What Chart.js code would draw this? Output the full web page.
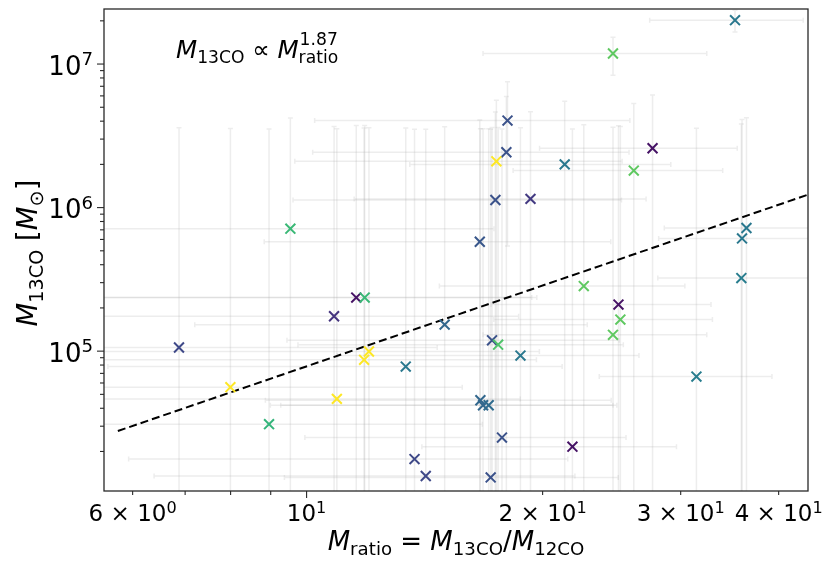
<!DOCTYPE html>
<html>
<head>
<meta charset="utf-8">
<script src="https://cdn.jsdelivr.net/npm/chart.js@4.4.0/dist/chart.umd.min.js"></script>
<style>
  html, body { margin: 0; padding: 0; background: #ffffff; }
  #wrap { width: 825px; height: 564px; }
</style>
</head>
<body>
<div id="wrap"><canvas id="chart" width="825" height="564"></canvas></div>
<script>
// Mass ratio M13CO / M12CO for each cloud
const massRatio = [
  35.19, 24.59, 18.04, 27.62, 17.98, 17.46, 21.34, 26.14, 17.41, 19.30,
  9.535, 36.39, 35.92, 16.63, 35.85, 22.57, 11.57, 11.86, 24.99, 10.84,
  25.13, 15.00, 24.59, 17.24, 17.55, 6.875, 12.01, 18.74, 11.84, 13.38,
  31.42, 7.995, 10.93, 16.66, 16.79, 17.07, 8.956, 17.75, 21.83, 13.73,
  14.19, 17.17
];
// 13CO mass of each cloud, in solar masses
const mass13CO = [
  2.02e7, 1.184e7, 4.04e6, 2.59e6, 2.43e6, 2.10e6, 2.00e6, 1.81e6, 1.13e6, 1.15e6,
  7.13e5, 7.21e5, 6.10e5, 5.78e5, 3.23e5, 2.84e5, 2.36e5, 2.36e5, 2.11e5, 1.75e5,
  1.66e5, 1.53e5, 1.30e5, 1.19e5, 1.11e5, 1.06e5, 9.94e4, 9.32e4, 8.70e4, 7.81e4,
  6.65e4, 5.61e4, 4.65e4, 4.55e4, 4.20e4, 4.20e4, 3.10e4, 2.50e4, 2.16e4, 1.77e4,
  1.35e4, 1.32e4
];
// 1-sigma uncertainties (linear, symmetric)
const massRatioErr = [
  7.8, 7.8, 7.8, 7.8, 7.8, 7.8, 7.8, 7.8, 7.8, 7.8,
  7.8, 7.8, 7.8, 7.8, 7.8, 7.8, 7.8, 7.8, 7.8, 7.8,
  7.8, 7.8, 7.8, 7.8, 7.8, 7.8, 7.8, 7.8, 7.8, 7.8,
  7.8, 7.8, 7.8, 7.8, 7.8, 7.8, 7.8, 7.8, 7.8, 7.8,
  7.8, 7.8
];
const mass13COErr = [
  3.5e6, 3.5e6, 3.5e6, 3.5e6, 3.5e6, 3.5e6, 3.5e6, 3.5e6, 3.5e6, 3.5e6,
  3.5e6, 3.5e6, 3.5e6, 3.5e6, 3.5e6, 3.5e6, 3.5e6, 3.5e6, 3.5e6, 3.5e6,
  3.5e6, 3.5e6, 3.5e6, 3.5e6, 3.5e6, 3.5e6, 3.5e6, 3.5e6, 3.5e6, 3.5e6,
  3.5e6, 3.5e6, 3.5e6, 3.5e6, 3.5e6, 3.5e6, 3.5e6, 3.5e6, 3.5e6, 3.5e6,
  3.5e6, 3.5e6
];
// colour-coding value of each cloud (0..1 on the viridis map)
const colourValue = [
  0.40, 0.75, 0.25, 0.05, 0.25, 1.00, 0.40, 0.75, 0.25, 0.17,
  0.67, 0.40, 0.40, 0.27, 0.42, 0.75, 0.05, 0.67, 0.05, 0.15,
  0.75, 0.33, 0.75, 0.25, 0.72, 0.22, 1.00, 0.40, 1.00, 0.40,
  0.42, 1.00, 1.00, 0.33, 0.33, 0.35, 0.65, 0.25, 0.05, 0.22,
  0.22, 0.25
];

// power-law fit M13CO = A * Mratio^k
const fitExponent = 1.87;
const fitCoefficient = 1057;
const fitRange = [5.745, 44];

// axis ranges and ticks
const xRange = [5.516, 43.6];
const yRange = [1.061e4, 2.418e7];
const xTickValues = [6, 7, 8, 9, 10, 20, 30, 40];
const xTickLabels = [['6 × 10', '0'], null, null, null, ['10', '1'], ['2 × 10', '1'], ['3 × 10', '1'], ['4 × 10', '1']];
const yTickValues = [2e4, 3e4, 4e4, 5e4, 6e4, 7e4, 8e4, 9e4, 1e5, 2e5, 3e5, 4e5, 5e5, 6e5, 7e5, 8e5, 9e5,
                     1e6, 2e6, 3e6, 4e6, 5e6, 6e6, 7e6, 8e6, 9e6, 1e7, 2e7];
const yTickLabels = { 1e5: ['10', '5'], 1e6: ['10', '6'], 1e7: ['10', '7'] };

const VIRIDIS = ['#440154', '#482475', '#414487', '#355f8d', '#2a788e', '#21918c',
                 '#22a884', '#44bf70', '#7ad151', '#bddf26', '#fde725'];
function hexRgb(h) {
  return [parseInt(h.slice(1, 3), 16), parseInt(h.slice(3, 5), 16), parseInt(h.slice(5, 7), 16)];
}
function viridis(t) {
  const f = Math.min(Math.max(t, 0), 1) * 10;
  const i = Math.min(Math.floor(f), 9);
  const u = f - i;
  const a = hexRgb(VIRIDIS[i]), b = hexRgb(VIRIDIS[i + 1]);
  const c = a.map((v, k) => Math.round(v + (b[k] - v) * u));
  return `rgb(${c[0]},${c[1]},${c[2]})`;
}

const FONT = '"DejaVu Sans", sans-serif';
const INK = 'rgb(40,40,40)';

// Draw a run of mathtext-like pieces: {t, it} plain/italic text, {sub}, {sup}, or both together.
function measureParts(ctx, parts, size) {
  let w = 0;
  for (const p of parts) w += partWidth(ctx, p, size);
  return w;
}
function partWidth(ctx, p, size) {
  if (p.t !== undefined) {
    ctx.font = `${p.it ? 'italic ' : ''}${size}px ${FONT}`;
    return ctx.measureText(p.t).width;
  }
  ctx.font = `${size * 0.7}px ${FONT}`;
  const ws = p.sub ? ctx.measureText(p.sub).width : 0;
  const wp = p.sup ? ctx.measureText(p.sup).width : 0;
  return Math.max(ws, wp);
}
function drawParts(ctx, parts, x, y, size, align) {
  let cx = x;
  if (align === 'center') cx = x - measureParts(ctx, parts, size) / 2;
  else if (align === 'right') cx = x - measureParts(ctx, parts, size);
  ctx.textAlign = 'left';
  ctx.textBaseline = 'alphabetic';
  for (const p of parts) {
    if (p.t !== undefined) {
      ctx.font = `${p.it ? 'italic ' : ''}${size}px ${FONT}`;
      ctx.fillText(p.t, cx, y);
    } else {
      ctx.font = `${size * 0.7}px ${FONT}`;
      const both = p.sub && p.sup;
      if (p.sub) ctx.fillText(p.sub, cx, y + size * (both ? 0.22 : 0.2));
      if (p.sup) ctx.fillText(p.sup, cx + (both ? 1 : 0), y - size * (both ? 0.55 : 0.36));
    }
    cx += partWidth(ctx, p, size);
  }
}

// Light-grey error bars underneath the markers
const errorBars = {
  id: 'errorBars',
  beforeDatasetsDraw(chart) {
    const { ctx, chartArea: a, scales: { x, y } } = chart;
    ctx.save();
    ctx.beginPath();
    ctx.rect(a.left, a.top, a.right - a.left, a.bottom - a.top);
    ctx.clip();
    ctx.strokeStyle = 'rgba(165,165,165,0.2)';
    ctx.lineWidth = 1.5;
    const cap = 2.5;
    massRatio.forEach((xv, i) => {
      const yv = mass13CO[i];
      const px = x.getPixelForValue(xv), py = y.getPixelForValue(yv);
      const xlo = xv - massRatioErr[i], xhi = xv + massRatioErr[i];
      const ylo = yv - mass13COErr[i], yhi = yv + mass13COErr[i];
      const pxl = xlo > 0 ? x.getPixelForValue(xlo) : a.left - 20;
      const pxh = x.getPixelForValue(xhi);
      const pyl = ylo > 0 ? y.getPixelForValue(ylo) : a.bottom + 20;
      const pyh = y.getPixelForValue(yhi);
      ctx.beginPath();
      ctx.moveTo(pxl, py); ctx.lineTo(pxh, py);
      if (xlo > 0) { ctx.moveTo(pxl, py - cap); ctx.lineTo(pxl, py + cap); }
      ctx.moveTo(pxh, py - cap); ctx.lineTo(pxh, py + cap);
      ctx.stroke();
      ctx.beginPath();
      ctx.moveTo(px, pyl); ctx.lineTo(px, pyh);
      if (ylo > 0) { ctx.moveTo(px - cap, pyl); ctx.lineTo(px + cap, pyl); }
      ctx.moveTo(px - cap, pyh); ctx.lineTo(px + cap, pyh);
      ctx.stroke();
    });
    ctx.restore();
  }
};

// Frame, tick marks, tick labels, axis titles and the fit annotation
const axesDecor = {
  id: 'axesDecor',
  afterDraw(chart) {
    const { ctx, chartArea: a, scales: { x, y } } = chart;
    ctx.save();
    ctx.strokeStyle = INK;
    ctx.fillStyle = '#000';
    ctx.lineWidth = 1.3;
    ctx.strokeRect(a.left, a.top, a.right - a.left, a.bottom - a.top);

    // x ticks
    ctx.lineWidth = 1.1;
    xTickValues.forEach((v, i) => {
      const px = x.getPixelForValue(v);
      const len = v === 10 ? 7 : 4;
      ctx.beginPath(); ctx.moveTo(px, a.bottom); ctx.lineTo(px, a.bottom + len); ctx.stroke();
      const lab = xTickLabels[i];
      if (lab) drawParts(ctx, [{ t: lab[0] }, { sup: lab[1] }], px, a.bottom + 30, 23, 'center');
    });
    // y ticks
    yTickValues.forEach(v => {
      const py = y.getPixelForValue(v);
      const lab = yTickLabels[v];
      const len = lab ? 7 : 4;
      ctx.beginPath(); ctx.moveTo(a.left, py); ctx.lineTo(a.left - len, py); ctx.stroke();
      if (lab) drawParts(ctx, [{ t: lab[0] }, { sup: lab[1] }], a.left - 11, py + 10.5, 26, 'right');
    });

    // axis titles
    const xTitle = [{ t: 'M', it: true }, { sub: 'ratio' }, { t: ' = ' },
                    { t: 'M', it: true }, { sub: '13CO' }, { t: '/' },
                    { t: 'M', it: true }, { sub: '12CO' }];
    drawParts(ctx, xTitle, (a.left + a.right) / 2, 550, 26, 'center');

    const yTitle = [{ t: 'M', it: true }, { sub: '13CO' }, { t: ' [' },
                    { t: 'M', it: true }, { sub: '\u2299' }, { t: ']' }];
    ctx.save();
    ctx.translate(37, (a.top + a.bottom) / 2 + 3);
    ctx.rotate(-Math.PI / 2);
    drawParts(ctx, yTitle, 0, 0, 27.5, 'center');
    ctx.restore();

    // fit annotation
    const note = [{ t: 'M', it: true }, { sub: '13CO' }, { t: ' \u221D ' },
                  { t: 'M', it: true }, { sup: String(fitExponent), sub: 'ratio' }];
    drawParts(ctx, note, 176, 58, 24.5, 'left');
    ctx.restore();
  }
};

const points = massRatio.map((v, i) => ({ x: v, y: mass13CO[i] }));
const fitLine = fitRange.map(v => ({ x: v, y: fitCoefficient * Math.pow(v, fitExponent) }));

new Chart(document.getElementById('chart'), {
  type: 'scatter',
  data: {
    datasets: [
      {
        label: 'clouds',
        data: points,
        order: 0,
        pointStyle: 'crossRot',
        pointRadius: 7,
        pointHoverRadius: 7,
        pointBorderWidth: 2,
        pointBorderColor: colourValue.map(viridis),
        pointBackgroundColor: 'rgba(0,0,0,0)'
      },
      {
        label: 'fit',
        type: 'line',
        data: fitLine,
        order: 1,
        borderColor: '#000000',
        borderWidth: 2,
        borderDash: [8, 4],
        pointRadius: 0,
        fill: false,
        tension: 0
      }
    ]
  },
  options: {
    responsive: false,
    animation: false,
    events: [],
    layout: { padding: { top: 9, right: 17, left: 0, bottom: 0 } },
    plugins: { legend: { display: false }, tooltip: { enabled: false } },
    scales: {
      x: {
        type: 'logarithmic',
        min: xRange[0], max: xRange[1],
        bounds: 'data',
        ticks: { display: false },
        grid: { display: false },
        border: { display: false },
        afterBuildTicks: s => { s.ticks = xTickValues.map(v => ({ value: v })); },
        afterFit: s => { s.height = 73; }
      },
      y: {
        type: 'logarithmic',
        min: yRange[0], max: yRange[1],
        bounds: 'data',
        ticks: { display: false },
        grid: { display: false },
        border: { display: false },
        afterBuildTicks: s => { s.ticks = yTickValues.map(v => ({ value: v })); },
        afterFit: s => { s.width = 104; }
      }
    }
  },
  plugins: [errorBars, axesDecor]
});
</script>
</body>
</html>
